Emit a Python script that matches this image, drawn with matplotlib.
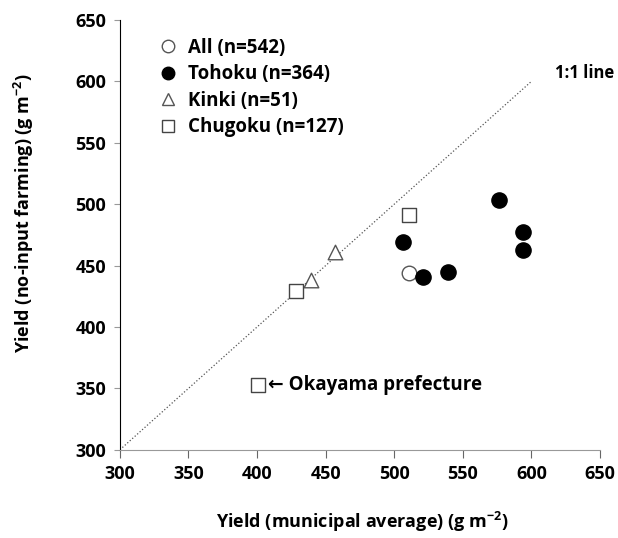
import numpy as np
import matplotlib.pyplot as plt
from matplotlib.lines import Line2D

plt.rcParams['font.family'] = ['Open Sans', 'DejaVu Sans']
plt.rcParams['mathtext.default'] = 'regular'

# data
all_x = [511]
all_y = [444]
tohoku_x = [576, 594, 594, 506, 521, 539]
tohoku_y = [503, 477, 463, 469, 441, 445]
kinki_x = [457, 439]
kinki_y = [461, 438]
chugoku_x = [511, 428, 401]
chugoku_y = [491, 429, 353]
ticks = [300, 350, 400, 450, 500, 550, 600, 650]

fig = plt.figure(figsize=(6.18, 5.38), dpi=100)
ax = fig.add_axes([0.194, 0.164, 0.777, 0.799])
ax.spines['top'].set_visible(False)
ax.spines['right'].set_visible(False)
ax.spines['bottom'].set_color('#999999')
ax.spines['left'].set_color('black')

# 1:1 line
ax.plot([300, 600], [300, 600], linestyle=':', color='#555555', linewidth=0.9, zorder=1)

ax.scatter(tohoku_x, tohoku_y, s=120, marker='o', facecolor='black', edgecolor='black', zorder=3)
ax.scatter(all_x, all_y, s=110, marker='o', facecolor='white', edgecolor='#555555', linewidth=1, zorder=2)
ax.scatter(kinki_x, kinki_y, s=110, marker='^', facecolor='white', edgecolor='#555555', linewidth=1, zorder=2)
ax.scatter(chugoku_x, chugoku_y, s=110, marker='s', facecolor='white', edgecolor='#444444', linewidth=1, zorder=2)

ax.text(617, 607, '1:1 line', fontsize=12, fontweight='bold', ha='left', va='center')
ax.text(408, 353, '\u2190 Okayama prefecture', fontsize=13.5, fontweight='bold', ha='left', va='center',
        family=['Open Sans', 'DejaVu Sans'])

ax.set_xlim(300, 650)
ax.set_ylim(300, 650)
ax.set_xticks(ticks)
ax.set_yticks(ticks)
ax.tick_params(axis='x', direction='out', length=6, color='#666666', labelsize=13, pad=5)
ax.tick_params(axis='y', direction='out', length=4, color='#999999', labelsize=13, pad=6)
for lab in ax.get_xticklabels() + ax.get_yticklabels():
    lab.set_fontweight('bold')

ax.set_xlabel('Yield (municipal average) (g m$^{-2}$)', fontsize=13, fontweight='bold')
ax.set_ylabel('Yield (no-input farming) (g m$^{-2}$)', fontsize=13, fontweight='bold')
ax.xaxis.set_label_coords(0.505, -0.14)
ax.yaxis.set_label_coords(-0.175, 0.55)

handles = [
    Line2D([], [], marker='o', linestyle='', markersize=9, markerfacecolor='white', markeredgecolor='#555555'),
    Line2D([], [], marker='o', linestyle='', markersize=9, markerfacecolor='black', markeredgecolor='black'),
    Line2D([], [], marker='^', linestyle='', markersize=9, markerfacecolor='white', markeredgecolor='#555555'),
    Line2D([], [], marker='s', linestyle='', markersize=9, markerfacecolor='white', markeredgecolor='#444444'),
]
labels = ['All (n=542)', 'Tohoku (n=364)', 'Kinki (n=51)', 'Chugoku (n=127)']
leg = ax.legend(handles, labels, loc='upper left', bbox_to_anchor=(0.045, 0.998), frameon=False,
                handlelength=1.0, handletextpad=0.6, labelspacing=0.35,
                prop={'size': 13.5, 'weight': 'bold'})

plt.savefig('out.png', dpi=100)
